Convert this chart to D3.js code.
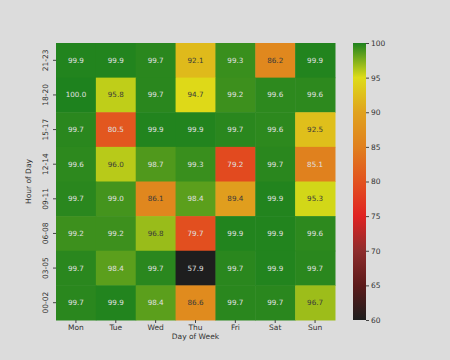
<!DOCTYPE html>
<html><head><meta charset="utf-8">
<script src="https://cdn.jsdelivr.net/npm/d3@7/dist/d3.min.js"></script>
<style>
html,body{margin:0;padding:0;background:#dcdcdc;}
svg{display:block;font-family:"DejaVu Sans",sans-serif;}
</style></head><body>
<svg id="c" width="450" height="360"></svg>
<script>
const days = ["Mon","Tue","Wed","Thu","Fri","Sat","Sun"];
const hours = ["21-23","18-20","15-17","12-14","09-11","06-08","03-05","00-02"];
const h2123 = [99.9, 99.9, 99.7, 92.1, 99.3, 86.2, 99.9];
const h1820 = [100.0, 95.8, 99.7, 94.7, 99.2, 99.6, 99.6];
const h1517 = [99.7, 80.5, 99.9, 99.9, 99.7, 99.6, 92.5];
const h1214 = [99.6, 96.0, 98.7, 99.3, 79.2, 99.7, 85.1];
const h0911 = [99.7, 99.0, 86.1, 98.4, 89.4, 99.9, 95.3];
const h0608 = [99.2, 99.2, 96.8, 79.7, 99.9, 99.9, 99.6];
const h0305 = [99.7, 98.4, 99.7, 57.9, 99.7, 99.9, 99.7];
const h0002 = [99.7, 99.9, 98.4, 86.6, 99.7, 99.7, 96.7];
const rows = [h2123, h1820, h1517, h1214, h0911, h0608, h0305, h0002];
const cbTicks = [60, 65, 70, 75, 80, 85, 90, 95, 100];
const cmapStops = [60, 65, 70, 75, 80, 85, 90, 95, 100];
const cmapColors = ["#1e1e1e","#5c1a1a","#8e2c2c","#e02222","#e2521f","#e0801e","#e0a21e","#dedc18","#1e821e"];

const cells = [];
rows.forEach((r, i) => r.forEach((v, j) => cells.push({hour: hours[i], day: days[j], v})));

const svg = d3.select("#c");
const L = 56, T = 43, R = 335, B = 320;
const x = d3.scaleBand().domain(days).range([L, R]);
const y = d3.scaleBand().domain(hours).range([T, B]);
const color = d3.scaleLinear().domain(cmapStops).range(cmapColors).clamp(true);

svg.append("g").selectAll("rect").data(cells).join("rect")
  .attr("x", d => x(d.day)).attr("y", d => y(d.hour))
  .attr("width", x.bandwidth() + 0.5).attr("height", y.bandwidth() + 0.5)
  .attr("fill", d => color(d.v));

function lum(c) {
  const k = d3.rgb(c);
  return 0.299 * k.r + 0.587 * k.g + 0.114 * k.b;
}
svg.append("g").selectAll("text").data(cells).join("text")
  .attr("x", d => x(d.day) + x.bandwidth() / 2)
  .attr("y", d => y(d.hour) + y.bandwidth() / 2)
  .attr("text-anchor", "middle").attr("dominant-baseline", "central")
  .attr("font-size", 7.2)
  .attr("fill", d => lum(color(d.v)) > 148 ? "#3a3a3a" : "#e0e0e0")
  .text(d => d.v.toFixed(1));

// x axis
const xa = svg.append("g").attr("transform", `translate(0,${B})`)
  .call(d3.axisBottom(x).tickSize(3).tickPadding(2));
xa.select(".domain").remove();
xa.selectAll("line").attr("stroke", "#444");
xa.selectAll("text").attr("font-size", 7.5).attr("fill", "#333").attr("font-family", "DejaVu Sans");

// y axis
const ya = svg.append("g").attr("transform", `translate(${L},0)`)
  .call(d3.axisLeft(y).tickSize(3).tickPadding(2));
ya.select(".domain").remove();
ya.selectAll("line").attr("stroke", "#444");
ya.selectAll("text").attr("font-size", 7.5).attr("fill", "#333").attr("font-family", "DejaVu Sans")
  .attr("text-anchor", "middle").attr("dy", null).attr("dominant-baseline", "auto")
  .attr("transform", function(){ return `translate(-8,0) rotate(-90)`; })
  .attr("x", 0).attr("y", 0);

svg.append("text").attr("x", (L + R) / 2).attr("y", 339)
  .attr("text-anchor", "middle").attr("font-size", 7.5).attr("fill", "#333").text("Day of Week");
svg.append("text").attr("transform", `translate(31,${(T + B) / 2}) rotate(-90)`)
  .attr("text-anchor", "middle").attr("font-size", 7.5).attr("fill", "#333").text("Hour of Day");

// colorbar
const cbX = 353, cbW = 13;
const cy = d3.scaleLinear().domain([60, 100]).range([B, T]);
const defs = svg.append("defs");
const grad = defs.append("linearGradient").attr("id", "cb")
  .attr("x1", 0).attr("y1", 1).attr("x2", 0).attr("y2", 0);
grad.selectAll("stop").data(cmapStops).join("stop")
  .attr("offset", d => (d - 60) / 40)
  .attr("stop-color", d => color(d));
svg.append("rect").attr("x", cbX).attr("y", T).attr("width", cbW).attr("height", B - T)
  .attr("fill", "url(#cb)");
const ca = svg.append("g").attr("transform", `translate(${cbX + cbW},0)`)
  .call(d3.axisRight(cy).tickValues(cbTicks).tickSize(3).tickPadding(2));
ca.select(".domain").remove();
ca.selectAll("line").attr("stroke", "#444");
ca.selectAll("text").attr("font-size", 7.5).attr("fill", "#333").attr("font-family", "DejaVu Sans");
</script></body></html>
